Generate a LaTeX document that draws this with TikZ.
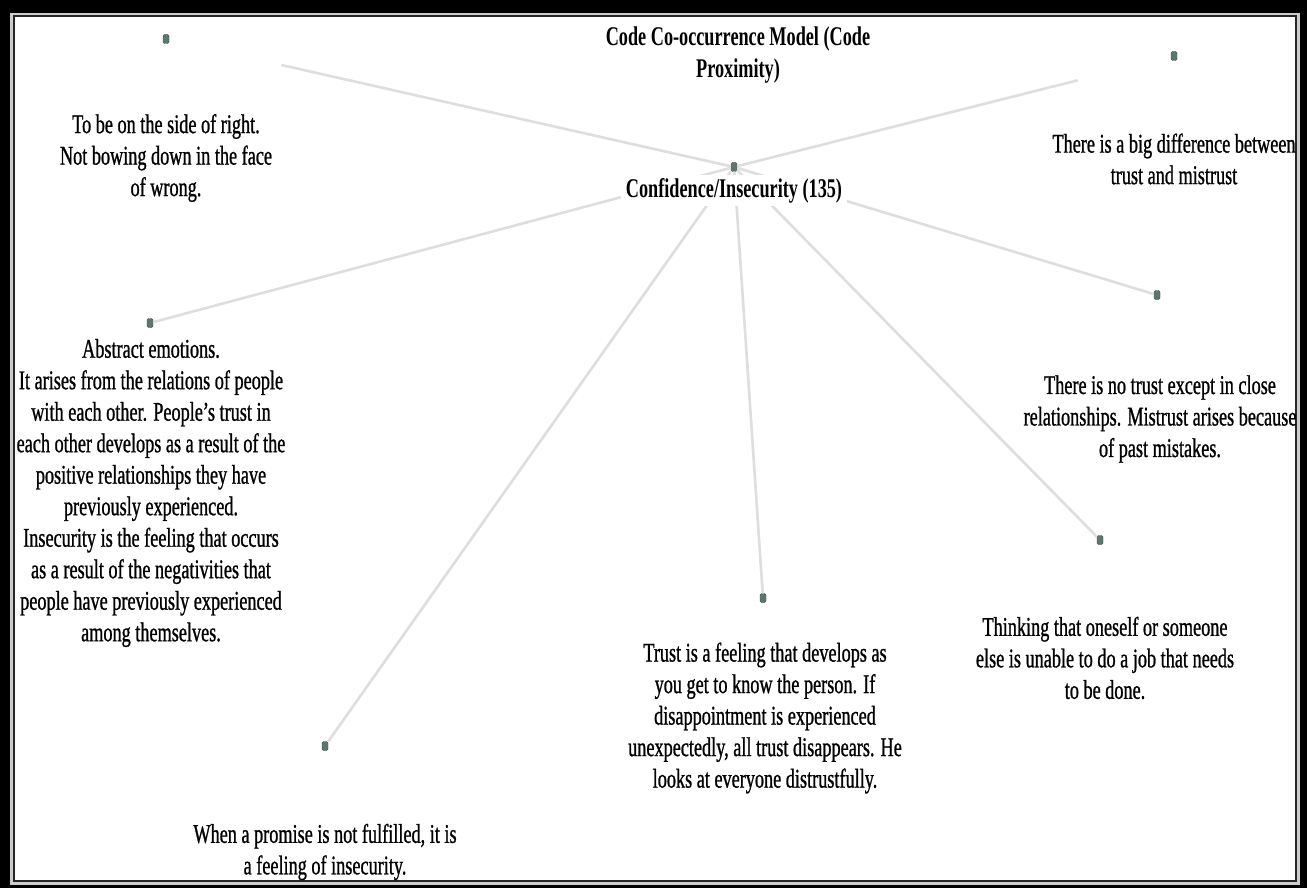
\documentclass[tikz,border=0pt]{standalone}
\usepackage{fontspec}
\setmainfont{Liberation Serif}[FakeStretch=0.675]
\newfontfamily\bodyfont{Liberation Serif}[Ligatures=TeX, FakeStretch=0.675, FakeBold=0.9]
\usetikzlibrary{positioning}
\definecolor{dotgreen}{HTML}{5E776E}
\definecolor{linkgray}{HTML}{DEDEDE}

\begin{document}
\begin{tikzpicture}[
x=1pt, y=-1pt,
dot/.style={
  draw=dotgreen!70!black,
  fill=dotgreen,
  rounded corners=1.5pt,
  minimum width=6pt,
  minimum height=9pt,
  inner sep=0pt
  },
link/.style={
  draw=linkgray,
  line width=2.6pt
  },
txt/.style={
  align=center,
  font=\bodyfont\fontsize{27}{31.5}\selectfont,
  inner sep=0pt
  },
hub/.style={
  font=\bfseries\fontsize{27}{31.5}\selectfont,
  fill=white,
  inner xsep=5pt,
  inner ysep=3pt
  }
]
% frame
\fill[black] (0,0) rectangle (1307,888);
\fill[gray!40] (10,13) rectangle (1300,885);
\fill[black!85] (13,15.5) rectangle (1297,882);
\fill[white] (15,17.5) rectangle (1295,879.5);
\useasboundingbox (0,0) rectangle (1307,888);

% dots
\node[dot] (c) at (734,167) {};
\node[dot] (d1) at (166,39) {};
\node[dot] (d2) at (1174,56) {};
\node[dot] (d3) at (150,323) {};
\node[dot] (d4) at (1157,295) {};
\node[dot] (d5) at (1100,540) {};
\node[dot] (d6) at (763,598) {};
\node[dot] (d7) at (325,746) {};

% links
\draw[link, shorten >=115pt] (c) -- (d1);
\draw[link, shorten >=96pt] (c) -- (d2);
\draw[link] (c) -- (d3);
\draw[link] (c) -- (d4);
\draw[link] (c) -- (d5);
\draw[link] (c) -- (d6);
\draw[link] (c) -- (d7);

% labels
\node[hub, anchor=base] (hublabel) at (734,197) {Confidence/Insecurity (135)};
\node[txt, font=\bfseries\fontsize{27}{31.5}\selectfont] (title) at (738,55)
  {Code Co-occurrence Model (Code\\Proximity)};
\node[txt] (l1) at (166,158) {To be on the side of right.\\Not bowing down in the face\\of wrong.};
\node[txt] (l2) at (1174,159) {There is a big difference between\\trust and mistrust};
\node[txt] (l3) at (151,493) {Abstract emotions.\\It arises from the relations of people\\with each other. People's trust in\\each other develops as a result of the\\positive relationships they have\\previously experienced.\\Insecurity is the feeling that occurs\\as a result of the negativities that\\people have previously experienced\\among themselves.};
\node[txt] (l4) at (1160,419) {There is no trust except in close\\relationships. Mistrust arises because\\of past mistakes.};
\node[txt] (l5) at (1105,658) {Thinking that oneself or someone\\else is unable to do a job that needs\\to be done.};
\node[txt] (l6) at (765,718) {Trust is a feeling that develops as\\you get to know the person. If\\disappointment is experienced\\unexpectedly, all trust disappears. He\\looks at everyone distrustfully.};
\node[txt] (l7) at (325,852) {When a promise is not fulfilled, it is\\a feeling of insecurity.};
\end{tikzpicture}
\end{document}
